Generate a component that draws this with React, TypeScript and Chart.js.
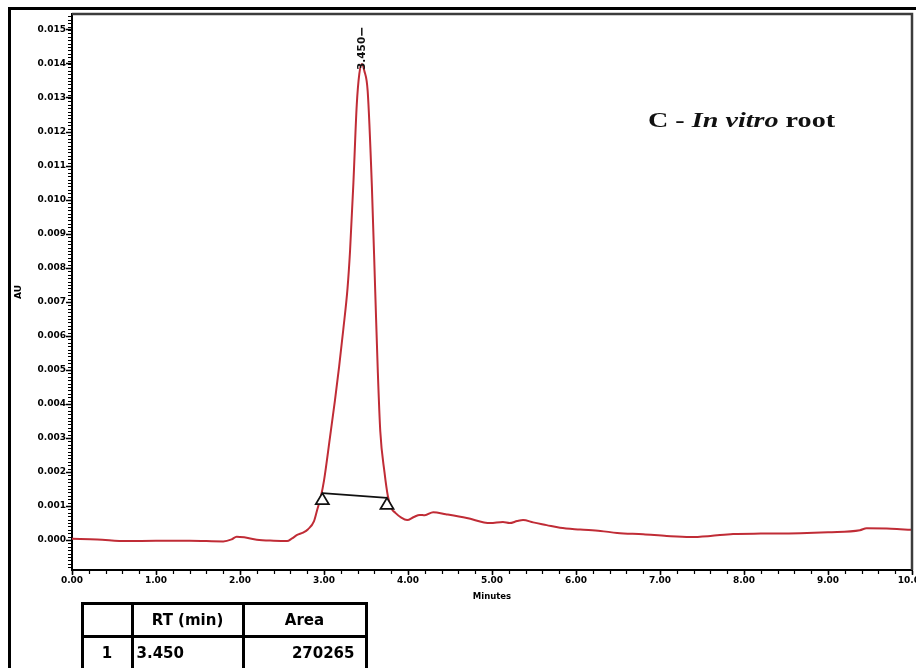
import React, { useEffect, useRef } from "react";
import { Chart, registerables } from "chart.js";

Chart.register(...registerables);

// ---- Data ----
const retentionTimes = [
  0.0, 0.3, 0.65, 1.0, 1.4, 1.8, 1.9, 1.96, 2.05, 2.2, 2.4, 2.56, 2.62, 2.68, 2.75, 2.81, 2.88, 2.92, 2.96,
  3.0, 3.07, 3.13, 3.18, 3.23, 3.28, 3.31, 3.35, 3.39, 3.42, 3.45, 3.48, 3.52, 3.57, 3.61, 3.64, 3.67,
  3.72, 3.76, 3.8, 3.85, 3.92, 3.99, 4.07, 4.14, 4.2, 4.3, 4.45, 4.7, 4.98, 5.13, 5.21, 5.3, 5.37, 5.49, 5.65,
  5.81, 6.05, 6.29, 6.49, 6.8, 7.08, 7.36, 7.6, 7.87, 8.2, 8.67, 9.0, 9.38, 9.46, 9.7, 9.86, 10.0,
];
const absorbance = [
  0.00004, 0.00002, -0.00003, -0.00002, -0.00002, -0.00004, 0.00002, 0.0001, 0.00008, 0.00001, -0.00002,
  -0.00003, 0.00005, 0.00015, 0.00022, 0.00032, 0.00055, 0.0009, 0.00125,
  0.00175, 0.003, 0.0041, 0.0051, 0.0062, 0.0074, 0.0085, 0.0105, 0.0128, 0.0137, 0.014, 0.0138, 0.0132,
  0.0104, 0.0073, 0.005, 0.0032,
  0.002, 0.0013, 0.00095, 0.0008, 0.00066, 0.00059, 0.00068, 0.00074, 0.00073, 0.00082, 0.00076, 0.00065,
  0.0005, 0.00053, 0.0005, 0.00056, 0.00059, 0.00052, 0.00044,
  0.00036, 0.00031, 0.00027, 0.00021, 0.00017, 0.00012, 0.00009, 0.00012, 0.00018, 0.00019, 0.0002, 0.00023,
  0.00029, 0.00035, 0.00034, 0.00032, 0.0003,
];
const baselineTimes = [2.98, 3.75];
const baselineAU = [0.00138, 0.00124];
const peakRT = 3.45;
const peakAU = 0.014;
const peakLabel = "3.450";

const xTickValues = [0, 1, 2, 3, 4, 5, 6, 7, 8, 9, 10];
const yTickValues = [
  0, 0.001, 0.002, 0.003, 0.004, 0.005, 0.006, 0.007, 0.008, 0.009, 0.01, 0.011, 0.012, 0.013, 0.014, 0.015,
];
const xMinorStep = 0.2;
const yMinorStep = 0.0001;
const X_MIN = 0;
const X_MAX = 10;
const Y_MIN = -0.00088;
const Y_MAX = 0.01547;

const xTitle = "Minutes";
const yTitle = "AU";
const tableHeader = ["", "RT (min)", "Area"];
const tableRows = [["1", "3.450", "270265"]];

const TICK_FONT = { family: "'DejaVu Sans', sans-serif", weight: "bold" as const, size: 9 };
const CURVE_COLOR = "#c02c36";

const decorPlugin = {
  id: "decor",
  afterDatasetsDraw(chart: any) {
    const { ctx, scales } = chart;
    const x = scales.x;
    const y = scales.y;
    ctx.save();

    // baseline triangles (apex at baseline end points)
    for (let i = 0; i < baselineTimes.length; i++) {
      const px = x.getPixelForValue(baselineTimes[i]);
      const py = y.getPixelForValue(baselineAU[i]);
      ctx.beginPath();
      ctx.moveTo(px, py);
      ctx.lineTo(px - 6.5, py + 11);
      ctx.lineTo(px + 6.5, py + 11);
      ctx.closePath();
      ctx.fillStyle = "#fff";
      ctx.fill();
      ctx.strokeStyle = "#111";
      ctx.lineWidth = 1.8;
      ctx.stroke();
    }

    // peak label
    const lx = x.getPixelForValue(peakRT);
    const ly = y.getPixelForValue(peakAU) + 6;
    ctx.font = "bold 10.5px 'DejaVu Sans', sans-serif";
    const tw = ctx.measureText(peakLabel).width;
    ctx.translate(lx, ly);
    ctx.rotate(-Math.PI / 2);
    ctx.fillStyle = "#111";
    ctx.textAlign = "left";
    ctx.textBaseline = "middle";
    ctx.fillText(peakLabel, 0, 0);
    ctx.setTransform(1, 0, 0, 1, 0, 0);
    ctx.beginPath();
    ctx.strokeStyle = "#111";
    ctx.lineWidth = 1.5;
    ctx.moveTo(lx, ly - tw - 1);
    ctx.lineTo(lx, ly - tw - 9);
    ctx.stroke();
    ctx.restore();
  },
  afterDraw(chart: any) {
    const { ctx, chartArea, scales } = chart;
    const { left, right, top, bottom } = chartArea;
    const x = scales.x;
    const y = scales.y;
    ctx.save();
    ctx.strokeStyle = "#3c3c3c";
    ctx.lineWidth = 2.5;
    ctx.beginPath();
    ctx.moveTo(left, top);
    ctx.lineTo(right, top);
    ctx.lineTo(right, bottom);
    ctx.stroke();

    ctx.strokeStyle = "#000";
    ctx.lineWidth = 1.2;
    ctx.beginPath();
    for (let i = Math.ceil(Y_MIN / yMinorStep); i * yMinorStep <= Y_MAX + 1e-12; i++) {
      const py = Math.round(y.getPixelForValue(i * yMinorStep)) + 0.5;
      ctx.moveTo(left - 4, py);
      ctx.lineTo(left, py);
    }
    for (let i = Math.ceil(X_MIN / xMinorStep); i * xMinorStep <= X_MAX + 1e-9; i++) {
      const px = Math.round(x.getPixelForValue(i * xMinorStep)) + 0.5;
      ctx.moveTo(px, bottom);
      ctx.lineTo(px, bottom + 4);
    }
    ctx.stroke();
    ctx.restore();
  },
};

export default function App() {
  const canvasRef = useRef<HTMLCanvasElement | null>(null);

  useEffect(() => {
    if (!canvasRef.current) return;
    const chart = new Chart(canvasRef.current, {
      type: "line",
      data: {
        datasets: [
          {
            data: retentionTimes.map((t, i) => ({ x: t, y: absorbance[i] })),
            borderColor: CURVE_COLOR,
            borderWidth: 2,
            pointRadius: 0,
            cubicInterpolationMode: "monotone",
            fill: false,
          },
          {
            data: baselineTimes.map((t, i) => ({ x: t, y: baselineAU[i] })),
            borderColor: "#111",
            borderWidth: 1.6,
            pointRadius: 0,
            fill: false,
          },
        ],
      },
      options: {
        animation: false,
        responsive: false,
        events: [],
        layout: { padding: { top: 14, right: 28, bottom: 0, left: 0 } },
        plugins: { legend: { display: false }, tooltip: { enabled: false } },
        scales: {
          x: {
            type: "linear",
            min: X_MIN,
            max: X_MAX,
            afterBuildTicks: (s: any) => {
              s.ticks = xTickValues.map((v) => ({ value: v }));
            },
            afterFit: (s: any) => {
              s.height = 668 - 570;
              s.paddingLeft = 0;
              s.paddingRight = 0;
            },
            ticks: {
              callback: (v: any) => Number(v).toFixed(2),
              font: TICK_FONT,
              color: "#000",
              padding: 0,
              maxRotation: 0,
              autoSkip: false,
            },
            grid: {
              display: true,
              drawOnChartArea: false,
              drawTicks: true,
              tickLength: 5,
              tickColor: "#000",
              tickWidth: 1.5,
            },
            border: { display: true, color: "#000", width: 2 },
            title: {
              display: true,
              text: xTitle,
              color: "#000",
              font: { family: "'DejaVu Sans', sans-serif", weight: "bold", size: 8.5 },
              padding: { top: 0, bottom: 66 },
            },
          },
          y: {
            type: "linear",
            min: Y_MIN,
            max: Y_MAX,
            afterBuildTicks: (s: any) => {
              s.ticks = yTickValues.map((v) => ({ value: v }));
            },
            afterFit: (s: any) => {
              s.width = 72;
              s.paddingTop = 0;
              s.paddingBottom = 0;
            },
            ticks: {
              callback: (v: any) => Number(v).toFixed(3),
              font: TICK_FONT,
              color: "#000",
              padding: 0,
              autoSkip: false,
            },
            grid: {
              display: true,
              drawOnChartArea: false,
              drawTicks: true,
              tickLength: 6,
              tickColor: "#000",
              tickWidth: 1.5,
            },
            border: { display: true, color: "#000", width: 2 },
            title: {
              display: true,
              text: yTitle,
              color: "#000",
              font: { family: "'DejaVu Sans', sans-serif", weight: "bold", size: 9 },
              padding: { top: 13, bottom: 0 },
            },
          },
        },
      },
      plugins: [decorPlugin],
    } as any);
    return () => chart.destroy();
  }, []);

  // table geometry
  const colX = [82, 132, 243, 366];
  const rowY = [603, 636, 670];
  const cellText: React.CSSProperties = {
    fontFamily: "'DejaVu Sans', sans-serif",
    fontWeight: "bold",
    fontSize: 15,
    color: "#000",
  };
  const cells: { r: number; c: number; text: string; align: "center" | "left" | "right" }[] = [];
  tableHeader.forEach((h, c) => cells.push({ r: 0, c, text: h, align: "center" }));
  tableRows.forEach((row, ri) =>
    row.forEach((t, c) =>
      cells.push({ r: ri + 1, c, text: t, align: c === 0 ? "center" : c === 1 ? "left" : "right" })
    )
  );

  return (
    <div>
      <div
        style={{
          position: "fixed",
          left: 8,
          top: 7,
          width: 1000,
          height: 1000,
          border: "3px solid #000",
          boxSizing: "border-box",
        }}
      />
      <div style={{ position: "fixed", left: 0, top: 0, width: 940, height: 668 }}>
        <canvas ref={canvasRef} width={940} height={668} style={{ display: "block" }} />
      </div>
      <div
        style={{
          position: "fixed",
          left: 648,
          top: 108,
          fontFamily: "'Liberation Serif', 'Times New Roman', serif",
          fontWeight: "bold",
          fontSize: 21,
          whiteSpace: "nowrap",
          color: "#111",
          transform: "scaleX(1.34)",
          transformOrigin: "left top",
        }}
      >
        C - <i>In vitro</i> root
      </div>
      {cells.map((cell, i) => (
        <div
          key={i}
          style={{
            position: "fixed",
            left: colX[cell.c] - 1.5,
            top: rowY[cell.r] - 1.5,
            width: colX[cell.c + 1] - colX[cell.c] + 3,
            height: rowY[cell.r + 1] - rowY[cell.r] + 3,
            border: "3px solid #000",
            boxSizing: "border-box",
            display: "flex",
            alignItems: "center",
            justifyContent: cell.align === "center" ? "center" : cell.align === "left" ? "flex-start" : "flex-end",
            paddingLeft: cell.align === "left" ? 3 : 0,
            paddingRight: cell.align === "right" ? 10 : 0,
            ...cellText,
          }}
        >
          {cell.text}
        </div>
      ))}
    </div>
  );
}
